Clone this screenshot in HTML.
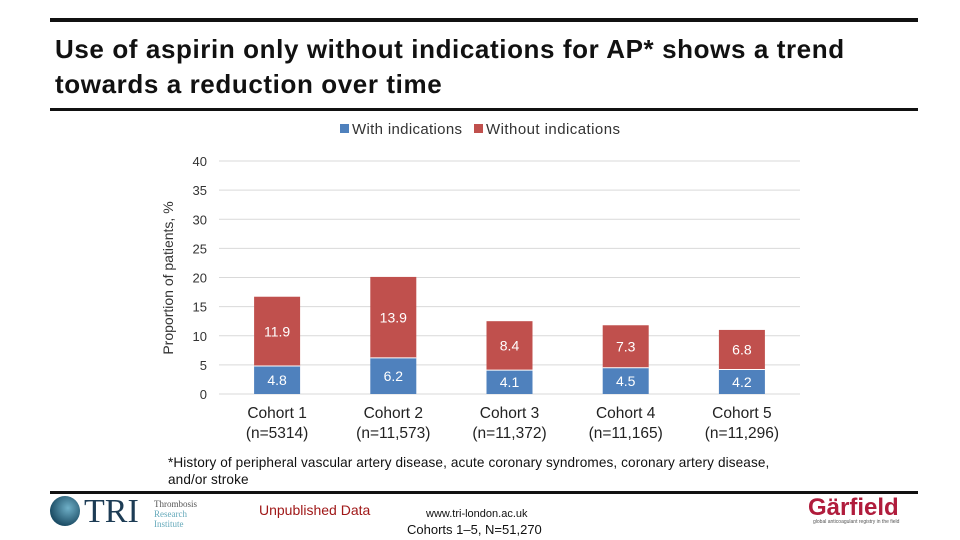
<!DOCTYPE html>
<html><head><meta charset="utf-8"><style>
body{margin:0;width:960px;height:540px;background:#fff;font-family:"Liberation Sans",sans-serif;position:relative;overflow:hidden}
.abs{position:absolute}
</style></head><body>
<div class="abs" style="left:50px;top:18px;width:868px;height:4px;background:#111"></div>
<div class="abs" style="left:55px;top:32px;font-size:26px;letter-spacing:0.6px;font-weight:bold;line-height:35px;color:#111">Use of aspirin only without indications for AP* shows a trend<br>towards a reduction over time</div>
<div class="abs" style="left:50px;top:108px;width:868px;height:3px;background:#111"></div>
<svg class="abs" style="left:0;top:0" width="960" height="540">
<g id="legend">
<rect x="340" y="124" width="9" height="9" fill="#4f81bd"/><text x="352" y="134" font-size="15" fill="#333" textLength="110">With indications</text>
<rect x="474" y="124" width="9" height="9" fill="#c0504d"/><text x="486" y="134" font-size="15" fill="#333" textLength="134">Without indications</text>
</g>
<text transform="translate(173,278) rotate(-90)" text-anchor="middle" font-size="14" fill="#333">Proportion of patients, %</text>
<g id="grid"></g><g id="bars"></g>
</svg>
<div class="abs" style="left:168px;top:454px;font-size:13.6px;letter-spacing:0.1px;line-height:17px;color:#111">*History of peripheral vascular artery disease, acute coronary syndromes, coronary artery disease,<br>and/or stroke</div>
<div class="abs" style="left:50px;top:491px;width:868px;height:3px;background:#111"></div>
<div class="abs" style="left:50px;top:496px;width:30px;height:30px;border-radius:50%;background:radial-gradient(circle at 60% 40%,#6fb0c8,#1d4e66 70%)"></div>
<div class="abs" style="left:84px;top:494px;font-family:'Liberation Serif',serif;font-size:34px;color:#1d3c55;line-height:36px">TRI</div>
<div class="abs" style="left:154px;top:499px;font-family:'Liberation Serif',serif;font-size:9px;line-height:10px;color:#555">Thrombosis<br><span style="color:#6ab">Research<br>Institute</span></div>
<div class="abs" style="left:259px;top:502px;font-size:14px;color:#a01818">Unpublished Data</div>
<div class="abs" style="left:426px;top:508px;font-size:11px;color:#111">www.tri-london.ac.uk</div>
<div class="abs" style="left:407px;top:522px;font-size:13px;color:#111">Cohorts 1–5, N=51,270</div>
<div class="abs" style="left:808px;top:494px;font-size:24px;font-weight:bold;color:#b01c3c">Gärfield</div>
<div class="abs" style="left:813px;top:519px;font-size:5px;color:#555">global anticoagulant registry in the field</div>
<script>
const categories=["Cohort 1","Cohort 2","Cohort 3","Cohort 4","Cohort 5"];
const nLabels=["(n=5314)","(n=11,573)","(n=11,372)","(n=11,165)","(n=11,296)"];
const withInd=[4.8,6.2,4.1,4.5,4.2];
const withoutInd=[11.9,13.9,8.4,7.3,6.8];
const yTicks=[0,5,10,15,20,25,30,35,40];
const NS="http://www.w3.org/2000/svg";
const x0=219,x1=800,y0=394,yTop=161;
const y=v=>y0-(v/40)*(y0-yTop);
const band=(x1-x0)/categories.length;
const xc=i=>x0+band*(i+0.5);
const bw=46;
function mk(tag,a,p){const e=document.createElementNS(NS,tag);for(const k in a)e.setAttribute(k,a[k]);p.appendChild(e);return e;}
const grid=document.getElementById('grid'),bars=document.getElementById('bars');
yTicks.forEach(t=>{
 const l=mk('line',{x1:x0,x2:x1,y1:y(t),y2:y(t),stroke:'#d9d9d9','stroke-width':1},grid);
 
 
 const tx=mk('text',{x:207,y:y(t)+5,'text-anchor':'end','font-size':13,fill:'#333'},grid);
 tx.textContent=t;
 
 
});
categories.forEach((c,i)=>{
 const cx=xc(i);
 const b=mk('rect',{x:cx-bw/2,y:y(withInd[i]),width:bw,height:y0-y(withInd[i]),fill:'#4f81bd'},bars);
 
 
 const tot=withInd[i]+withoutInd[i];
 const r=mk('rect',{x:cx-bw/2,y:y(tot),width:bw,height:y(withInd[i])-y(tot),fill:'#c0504d'},bars);
 
 
 mk('line',{x1:cx-bw/2,x2:cx+bw/2,y1:y(withInd[i]),y2:y(withInd[i]),stroke:'#fff','stroke-width':1},bars);
 const t1=mk('text',{x:cx,y:(y0+y(withInd[i]))/2+5,'text-anchor':'middle','font-size':14,fill:'#fff'},bars);
 t1.textContent=withInd[i];
 
 
 const t2=mk('text',{x:cx,y:(y(withInd[i])+y(tot))/2+5,'text-anchor':'middle','font-size':14,fill:'#fff'},bars);
 t2.textContent=withoutInd[i];
 
 
 const c1=mk('text',{x:cx,y:418,'text-anchor':'middle','font-size':15.5,fill:'#222'},bars);
 c1.textContent=c;
 
 
 const c2=mk('text',{x:cx,y:438,'text-anchor':'middle','font-size':15.5,fill:'#222'},bars);
 c2.textContent=nLabels[i];
 
 
});
</script>
</body></html>
